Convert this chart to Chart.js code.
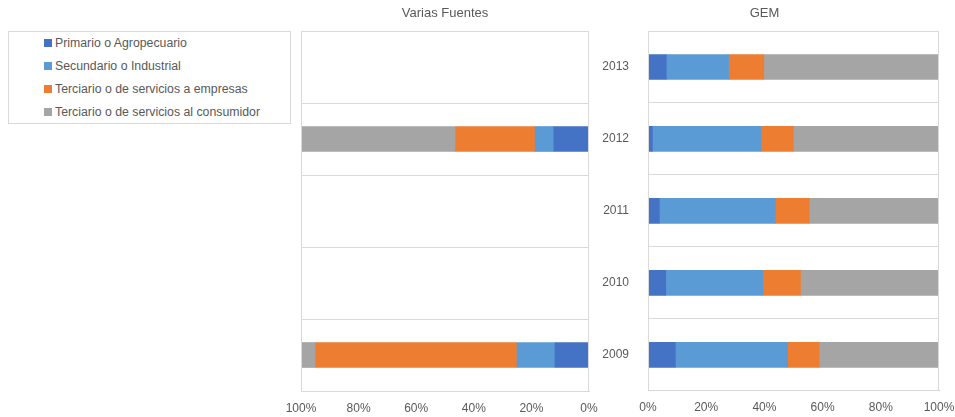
<!DOCTYPE html>
<html><head><meta charset="utf-8">
<script src="https://cdn.jsdelivr.net/npm/chart.js@4/dist/chart.umd.min.js"></script>
<style>
html,body{margin:0;padding:0;background:#fff;width:955px;height:417px;overflow:hidden;font-family:"Liberation Sans",Arial,sans-serif;}
#legend{position:absolute;left:8px;top:31px;width:283px;height:93px;border:1px solid #d9d9d9;box-sizing:border-box;}
.li{position:absolute;left:35px;font-size:12.3px;color:#595959;white-space:nowrap;line-height:14px;}
.li span{display:inline-block;width:8px;height:8px;margin-right:3px;vertical-align:0px;}
#c1wrap{position:absolute;left:286px;top:0;width:320px;height:417px;}
#c2wrap{position:absolute;left:590px;top:0;width:365px;height:417px;}
</style></head>
<body>
<div id="legend"></div>
<div id="c1wrap"><canvas id="c1"></canvas></div>
<div id="c2wrap"><canvas id="c2"></canvas></div>
<script>
const years = ['2013','2012','2011','2010','2009'];
const seriesNames = ['Primario o Agropecuario','Secundario o Industrial','Terciario o de servicios a empresas','Terciario o de servicios al consumidor'];
const seriesColors = ['#4472C4','#5B9BD5','#ED7D31','#A5A5A5'];
const xTicks = [0,20,40,60,80,100];
// Varias Fuentes (left)
const vfPrimario   = [null, 12.2, null, null, 11.8];
const vfSecundario = [null,  6.5, null, null, 13.2];
const vfEmpresas   = [null, 27.6, null, null, 69.9];
const vfConsumidor = [null, 53.7, null, null,  5.1];
// GEM (right)
const gemPrimario   = [6.3, 1.5, 3.9, 6.1, 9.4];
const gemSecundario = [21.4, 37.3, 39.9, 33.4, 38.6];
const gemEmpresas   = [12.1, 11.2, 11.6, 12.9, 10.8];
const gemConsumidor = [60.2, 50.0, 44.6, 47.6, 41.2];

// legend
const lg = document.getElementById('legend');
seriesNames.forEach((n,i)=>{
  const d=document.createElement('div');d.className='li';d.style.top=(4+i*23)+'px';
  d.innerHTML='<span style="background:'+seriesColors[i]+'"></span>'+n;lg.appendChild(d);
});

const grid='#d9d9d9', txt='#595959', font="'Liberation Sans', Arial, sans-serif";
const borderPlugin={id:'frame',afterDatasetsDraw(c){const a=c.chartArea,x=c.ctx;x.save();x.strokeStyle=grid;x.lineWidth=1;
  x.beginPath();x.moveTo(Math.round(a.left)+0.5,a.top);x.lineTo(Math.round(a.left)+0.5,a.bottom);
  x.moveTo(Math.round(a.right)-0.5,a.top);x.lineTo(Math.round(a.right)-0.5,a.bottom);x.stroke();x.restore();}};

function mk(id, title, arrs, reversed, showY, pad){
  return new Chart(document.getElementById(id),{
    type:'bar',
    data:{labels:years,datasets:arrs.map((a,i)=>({label:seriesNames[i],data:a,backgroundColor:seriesColors[i],barThickness:25,borderWidth:0}))},
    options:{
      responsive:true,maintainAspectRatio:false,animation:false,indexAxis:'y',
      layout:{padding:pad},
      plugins:{legend:{display:false},tooltip:{enabled:false},
        title:{display:true,text:title,color:txt,font:{family:font,size:13,weight:'normal'},padding:{top:6,bottom:9.4}}},
      scales:{
        x:{stacked:true,min:0,max:100,reverse:reversed,
          afterTickToLabelConversion(s){s.ticks=xTicks.map(v=>({value:v,label:v+'%'}));},
          afterFit(s){s.height=26;s.paddingLeft=0;s.paddingRight=0;},
          grid:{display:false,drawTicks:false},border:{display:true,color:grid},
          ticks:{color:txt,font:{family:font,size:12},padding:10,maxRotation:0,autoSkip:false}},
        y:{stacked:true,afterFit(s){s.width=showY?58:0;},
          grid:{display:true,color:grid,drawTicks:false,offset:true},border:{display:false},
          ticks:{display:showY,color:txt,font:{family:font,size:12},padding:19}}
      }
    },
    plugins:[borderPlugin]
  });
}
mk('c1','Varias Fuentes',[vfPrimario,vfSecundario,vfEmpresas,vfConsumidor],true,false,{left:15,right:17,top:0,bottom:0});
mk('c2','GEM',[gemPrimario,gemSecundario,gemEmpresas,gemConsumidor],false,true,{left:0,right:16,top:0,bottom:0});
</script>
</body></html>
